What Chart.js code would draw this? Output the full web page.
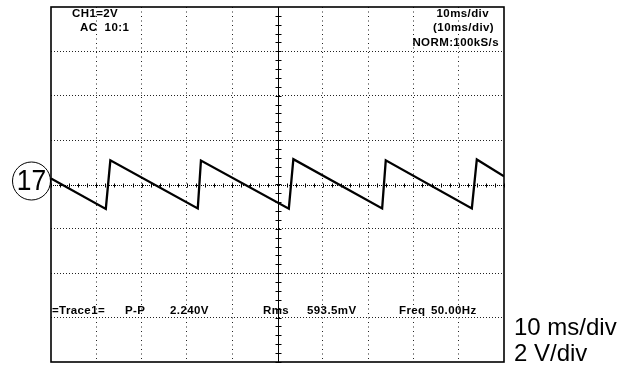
<!DOCTYPE html>
<html>
<head>
<meta charset="utf-8">
<script src="https://cdn.jsdelivr.net/npm/chart.js@4/dist/chart.umd.min.js"></script>
<style>
  html, body { margin: 0; padding: 0; background: #fff; }
  #scope { display: block; }
</style>
</head>
<body>
<canvas id="scope" width="634" height="366"></canvas>
<script>
// Sawtooth trace: time (ms) and voltage (V) at each vertex of the waveform
const timeMs = [0, 12.1, 13.1, 32.4, 33.1, 52.5, 53.5, 73.1, 73.9, 92.9, 94.0, 100];
const volts  = [0.27, -1.10, 1.09, -1.08, 1.08, -1.09, 1.14, -1.08, 1.09, -1.08, 1.13, 0.37];

// Screen range: 10 divisions of 10 ms, 8 divisions of 2 V
const timeRange = [0, 100];
const voltRange = [-8, 8];
const timePerDiv = 10;
const voltPerDiv = 2;

// On-screen readouts
const headerLeft = ['CH1=2V', 'AC  10:1'];
const headerRight = ['10ms/div', '(10ms/div)', 'NORM:100kS/s'];
const measureLabels = ['=Trace1=', 'P-P', '2.240V', 'Rms', '593.5mV', 'Freq', '50.00Hz'];
const captionLines = ['10 ms/div', '2 V/div'];
const markerLabel = '17';

const points = timeMs.map((t, i) => ({ x: t, y: volts[i] }));

const scopeDecor = {
  id: 'scopeDecor',
  beforeDatasetsDraw(chart) {
    const { ctx, chartArea: a, scales: { x, y } } = chart;
    const x0 = Math.round(x.getPixelForValue(50)) + 0.5;
    const y0 = Math.round(y.getPixelForValue(0)) + 0.5;
    ctx.save();
    ctx.strokeStyle = '#000';
    ctx.lineWidth = 1;
    // centre horizontal axis (dense dots) with minor ticks
    ctx.setLineDash([1, 1]);
    ctx.beginPath(); ctx.moveTo(a.left, y0); ctx.lineTo(a.right, y0); ctx.stroke();
    ctx.setLineDash([]);
    ctx.beginPath();
    for (let t = timeRange[0]; t <= timeRange[1]; t += timePerDiv / 5) {
      const px = Math.round(x.getPixelForValue(t)) + 0.5;
      ctx.moveTo(px, y0 - 2); ctx.lineTo(px, y0 + 2);
    }
    ctx.stroke();
    // centre vertical axis with minor ticks
    ctx.beginPath(); ctx.moveTo(x0, a.top); ctx.lineTo(x0, a.bottom); ctx.stroke();
    ctx.beginPath();
    for (let v = voltRange[0]; v <= voltRange[1]; v += voltPerDiv / 5) {
      const py = Math.round(y.getPixelForValue(v)) + 0.5;
      ctx.moveTo(x0 - 3, py); ctx.lineTo(x0 + 3, py);
    }
    ctx.stroke();
    ctx.restore();
  },
  afterDraw(chart) {
    const { ctx, chartArea: a } = chart;
    ctx.save();
    // screen frame
    ctx.strokeStyle = '#000';
    ctx.lineWidth = 1.6;
    ctx.strokeRect(a.left, a.top, a.right - a.left, a.bottom - a.top);

    // readouts
    ctx.fillStyle = '#000';
    ctx.font = 'bold 11.5px "Liberation Sans", Arial, sans-serif';
    ctx.letterSpacing = '0.4px';
    ctx.textBaseline = 'middle';
    ctx.textAlign = 'left';
    ctx.fillText(headerLeft[0], a.left + 21, a.top + 7);
    ctx.fillText(headerLeft[1], a.left + 29, a.top + 21);
    ctx.textAlign = 'right';
    ctx.fillText(headerRight[0], a.right - 15, a.top + 7);
    ctx.fillText(headerRight[1], a.right - 10, a.top + 21);
    ctx.fillText(headerRight[2], a.right - 5, a.top + 36);
    ctx.textAlign = 'left';
    const mx = [1, 74, 119, 212, 256, 348, 380];
    measureLabels.forEach((s, i) => ctx.fillText(s, a.left + mx[i], a.top + 304));
    ctx.letterSpacing = '0px';

    // caption beside the screen
    ctx.font = '24px "Liberation Sans", Arial, sans-serif';
    ctx.fillText(captionLines[0], a.right + 10, 328);
    ctx.fillText(captionLines[1], a.right + 10, 354);

    // circled probe marker at the left edge
    const cy = a.top + 174;
    ctx.lineWidth = 1;
    ctx.beginPath(); ctx.arc(31.5, cy, 19, 0, Math.PI * 2); ctx.stroke();
    ctx.translate(31.5, cy + 1);
    ctx.scale(0.88, 1);
    ctx.textAlign = 'center';
    ctx.font = '30px "Liberation Sans", Arial, sans-serif';
    ctx.fillText(markerLabel, 0, 0);
    ctx.restore();
  }
};

const gridColor = (edgeValues) => (c) =>
  (c.tick && edgeValues.includes(c.tick.value)) ? 'rgba(0,0,0,0)' : '#222';

new Chart(document.getElementById('scope'), {
  type: 'line',
  data: {
    datasets: [{
      data: points,
      borderColor: '#000',
      borderWidth: 2.3,
      pointRadius: 0,
      tension: 0,
      fill: false
    }]
  },
  options: {
    responsive: false,
    animation: false,
    events: [],
    layout: { padding: { left: 51, top: 7, right: 130, bottom: 4 } },
    plugins: { legend: { display: false }, tooltip: { enabled: false } },
    scales: {
      x: {
        type: 'linear',
        min: timeRange[0], max: timeRange[1],
        ticks: { display: false, stepSize: timePerDiv, padding: 0 },
        grid: { drawTicks: false, tickLength: 0, lineWidth: 1, color: gridColor([0, 50, 100]) },
        border: { display: false, dash: [1, 3.5] }
      },
      y: {
        type: 'linear',
        min: voltRange[0], max: voltRange[1],
        ticks: { display: false, stepSize: voltPerDiv, padding: 0 },
        grid: { drawTicks: false, tickLength: 0, lineWidth: 1, color: gridColor([-8, 0, 8]) },
        border: { display: false, dash: [1, 2] }
      }
    }
  },
  plugins: [scopeDecor]
});
</script>
</body>
</html>
